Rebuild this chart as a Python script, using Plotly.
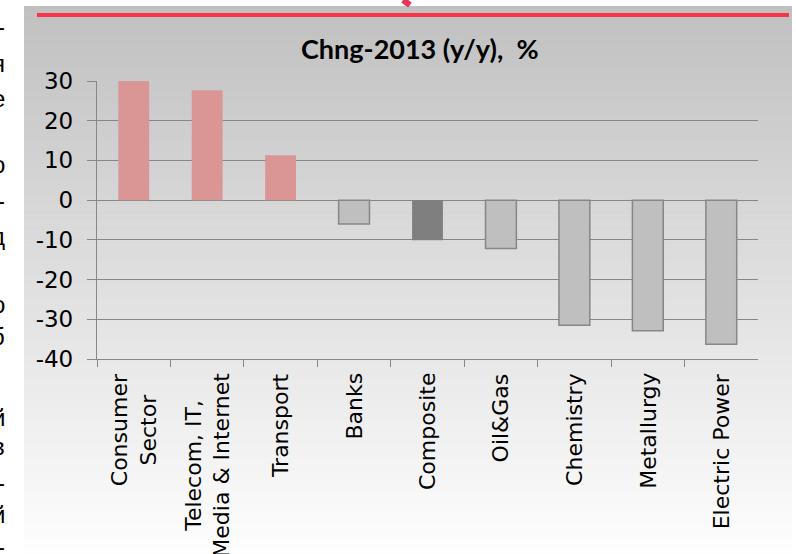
import plotly.graph_objects as go

W, H = 796, 554

# --- data -------------------------------------------------------------
sectors = [
    "Consumer<br>Sector",
    "Telecom, IT,<br>Media & Internet",
    "Transport",
    "Banks",
    "Composite",
    "Oil&Gas",
    "Chemistry",
    "Metallurgy",
    "Electric Power",
]
chng_2013 = [30.2, 27.7, 11.3, -6.0, -10.1, -12.2, -31.5, -32.9, -36.3]
y_ticks = [30, 20, 10, 0, -10, -20, -30, -40]
y_tick_text = ["30", "20", "10", "0", "-10", "-20", "-30", "-40"]
title_text = "Chng-2013 (y/y),  %"

# clipped ends of the neighbouring slide text on the left edge
edge_glyphs = ["-", "я", "е", "о", "-", "д", "о", "б", "й", "в", "-", "й", "-"]
edge_glyph_y = [26, 63, 99, 164, 200, 237, 304, 336, 417, 446, 482, 514, 546]


def px(x):
    return x / W


def py(y):
    return 1 - y / H


# --- bar styling ------------------------------------------------------
fill, edge, edge_w = [], [], []
for name, v in zip(sectors, chng_2013):
    if name == "Composite":
        fill.append("#7f7f7f"); edge.append("#7f7f7f"); edge_w.append(0)
    elif v >= 0:
        fill.append("#d99694"); edge.append("#d99694"); edge_w.append(0)
    else:
        fill.append("#bfbfbf"); edge.append("#878787"); edge_w.append(1.5)

fig = go.Figure(
    go.Bar(
        x=sectors,
        y=chng_2013,
        width=0.42,
        marker=dict(color=fill, line=dict(color=edge, width=edge_w)),
        hoverinfo="x+y",
    )
)

# --- panel background: vertical grey-to-white gradient ---------------
shapes = []
top, bottom, left, right = 6, 554, 24, 792
n = 110
c0, c1 = 192, 254
for i in range(n):
    y0 = top + (bottom - top) * i / n
    y1 = top + (bottom - top) * (i + 1) / n + 0.6
    c = round(c0 + (c1 - c0) * (i + 0.5) / n)
    shapes.append(dict(
        type="rect", xref="paper", yref="paper", layer="below",
        x0=px(left), x1=px(right), y0=py(min(y1, bottom)), y1=py(y0),
        line=dict(width=0), fillcolor=f"rgb({c},{c},{c})",
    ))

# red header rule and the tip of the slide ornament above it
shapes.append(dict(
    type="line", xref="paper", yref="paper",
    x0=px(37), x1=px(789), y0=py(15), y1=py(15),
    line=dict(color="#f93448", width=4),
))
shapes.append(dict(
    type="line", xref="paper", yref="paper",
    x0=px(403), x1=px(410), y0=py(0), y1=py(5),
    line=dict(color="#e8345a", width=6),
))

annotations = []
annotations.append(dict(
    text=f"<b>{title_text}</b>", xref="paper", yref="paper",
    x=px(420), y=py(48), xanchor="center", yanchor="middle",
    showarrow=False, font=dict(family="Lato", size=27, color="#000000"),
))

# rotated category labels, lines centred on each other
for name in sectors:
    annotations.append(dict(
        text=name, xref="x", yref="paper", x=name, y=py(371),
        xanchor="center", yanchor="top", textangle=-90, align="center",
        showarrow=False, font=dict(family="DejaVu Sans", size=22, color="#000000"),
    ))

for g, gy in zip(edge_glyphs, edge_glyph_y):
    annotations.append(dict(
        text=g, xref="paper", yref="paper", x=px(7), y=py(gy),
        xanchor="right", yanchor="middle", showarrow=False,
        font=dict(family="Liberation Sans", size=24, color="#000000"),
    ))

grid_col = "#878787"
fig.update_layout(
    width=W, height=H,
    margin=dict(l=0, r=0, t=0, b=0, pad=0, autoexpand=False),
    paper_bgcolor="#ffffff",
    plot_bgcolor="rgba(0,0,0,0)",
    showlegend=False,
    shapes=shapes,
    annotations=annotations,
    bargap=0.58,
    xaxis=dict(
        domain=[px(97), px(758)],
        range=[-0.5, len(sectors) - 0.5],
        automargin=False,
        showticklabels=False,
        showgrid=False, zeroline=False,
        showline=True, linecolor=grid_col, linewidth=1.3,
        ticks="outside", tickson="boundaries", ticklen=7,
        tickcolor=grid_col, tickwidth=1.3,
    ),
    yaxis=dict(
        domain=[py(359), py(81)],
        range=[-40, 30],
        automargin=False,
        tickmode="array", tickvals=y_ticks, ticktext=y_tick_text,
        tickfont=dict(family="DejaVu Sans", size=23, color="#000000"),
        showgrid=True, gridcolor=grid_col, gridwidth=1.3,
        zeroline=False,
        showline=True, linecolor=grid_col, linewidth=1.3,
        ticks="outside", ticklen=9, tickcolor=grid_col, tickwidth=1.3,
        ticklabelstandoff=9,
    ),
)

fig.write_html("out.html")
